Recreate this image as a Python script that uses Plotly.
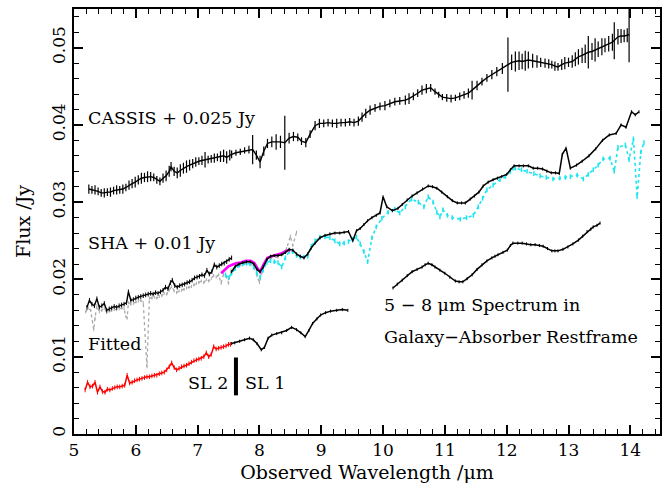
import plotly.graph_objects as go

# ---------------- CASSIS spectrum (+0.025 Jy offset) ----------------
cassis_wl = [5.24, 5.29, 5.34, 5.39, 5.44, 5.49, 5.54, 5.59, 5.64, 5.69, 5.74, 5.79,
             5.84, 5.89, 5.94, 5.99, 6.04, 6.09, 6.14, 6.19, 6.24, 6.29, 6.34, 6.39,
             6.44, 6.49, 6.54, 6.57, 6.62, 6.67, 6.72, 6.77, 6.82, 6.87, 6.92, 6.97,
             7.02, 7.07, 7.12, 7.17, 7.22, 7.27, 7.32, 7.37, 7.42, 7.47, 7.52,
             7.55, 7.62, 7.69, 7.76, 7.83, 7.89, 7.95, 8.01, 8.07, 8.13, 8.20, 8.27,
             8.34, 8.41, 8.48, 8.55, 8.62, 8.68, 8.75, 8.82, 8.90, 8.97, 9.04, 9.11,
             9.18, 9.25, 9.32, 9.39, 9.46, 9.53, 9.60, 9.66, 9.72, 9.79, 9.87, 9.95,
             10.03, 10.11, 10.19, 10.27, 10.36, 10.42, 10.49, 10.56, 10.63, 10.70,
             10.77, 10.84, 10.90, 10.96, 11.03, 11.10, 11.17, 11.24, 11.31, 11.38,
             11.44, 11.52, 11.60, 11.68, 11.76, 11.84, 11.93, 12.02, 12.08, 12.14,
             12.20, 12.25, 12.30, 12.35, 12.42, 12.49, 12.55, 12.62, 12.68, 12.73,
             12.78, 12.83, 12.89, 12.94, 13.00, 13.06, 13.11, 13.16, 13.22, 13.27,
             13.32, 13.38, 13.43, 13.48, 13.54, 13.59, 13.65, 13.71, 13.74, 13.80,
             13.85, 13.90, 13.95, 13.98]
cassis_flux = [0.0317, 0.0316, 0.0316, 0.0314, 0.0312, 0.0312, 0.0313, 0.0313, 0.0315, 0.0316,
               0.0316, 0.0317, 0.0319, 0.0322, 0.0324, 0.0326, 0.0329, 0.0331, 0.0332, 0.0333,
               0.0333, 0.0332, 0.0329, 0.0327, 0.0331, 0.0334, 0.0340, 0.0346, 0.0340, 0.0338,
               0.0341, 0.0344, 0.0346, 0.0348, 0.0350, 0.0352, 0.0353, 0.0354, 0.0355, 0.0355,
               0.0356, 0.0357, 0.0358, 0.0359, 0.0360, 0.0358, 0.0361,
               0.0362, 0.0364, 0.0365, 0.0367, 0.0368, 0.0368, 0.0361, 0.0352, 0.0366, 0.0376,
               0.0378, 0.0378, 0.0378, 0.0377, 0.0383, 0.0385, 0.0384, 0.0379, 0.0377, 0.0388,
               0.0399, 0.0402, 0.0402, 0.0403, 0.0402, 0.0402, 0.0403, 0.0403, 0.0404, 0.0403,
               0.0405, 0.0410, 0.0415, 0.0419, 0.0422, 0.0424, 0.0425, 0.0428, 0.0430, 0.0431,
               0.0432, 0.0434, 0.0437, 0.0441, 0.0445, 0.0447, 0.0448, 0.0443, 0.0439, 0.0436,
               0.0435, 0.0434, 0.0435, 0.0437, 0.0439, 0.0441, 0.0445, 0.0451, 0.0456, 0.0461,
               0.0465, 0.0469, 0.0473, 0.0478, 0.0481, 0.0482, 0.0483, 0.0482, 0.0483, 0.0484,
               0.0483, 0.0482, 0.0481, 0.0480, 0.0479, 0.0478, 0.0476, 0.0475, 0.0478, 0.0480,
               0.0481, 0.0482, 0.0485, 0.0488, 0.0490, 0.0492, 0.0494, 0.0495, 0.0497, 0.0498,
               0.0501, 0.0503, 0.0505, 0.0507, 0.0509, 0.0514, 0.0515, 0.0515, 0.0516, 0.0517]
cassis_err = [0.0006, 0.0005, 0.0006, 0.0005, 0.0005, 0.0006, 0.0005, 0.0006, 0.0005, 0.0006,
              0.0005, 0.0006, 0.0005, 0.0006, 0.0006, 0.0007, 0.0006, 0.0007, 0.0006, 0.0007,
              0.0006, 0.0005, 0.0005, 0.0005, 0.0006, 0.0007, 0.0007, 0.0006, 0.0006, 0.0007,
              0.0008, 0.0007, 0.0008, 0.0007, 0.0006, 0.0006, 0.0005, 0.0006, 0.0010, 0.0005,
              0.0005, 0.0006, 0.0005, 0.0007, 0.0008, 0.0008, 0.0007,
              0.0005, 0.0004, 0.0004, 0.0004, 0.0005, 0.0019, 0.0006, 0.0008, 0.0006, 0.0006,
              0.0007, 0.0010, 0.0008, 0.0035, 0.0007, 0.0006, 0.0005, 0.0005, 0.0006, 0.0005,
              0.0006, 0.0006, 0.0005, 0.0005, 0.0005, 0.0006, 0.0005, 0.0005, 0.0005, 0.0005,
              0.0006, 0.0006, 0.0006, 0.0006, 0.0005, 0.0005, 0.0006, 0.0005, 0.0005, 0.0005,
              0.0006, 0.0007, 0.0005, 0.0005, 0.0006, 0.0006, 0.0005, 0.0004, 0.0004, 0.0004,
              0.0005, 0.0005, 0.0004, 0.0005, 0.0005, 0.0006, 0.0012, 0.0006, 0.0005, 0.0005,
              0.0006, 0.0006, 0.0007, 0.0035, 0.0010, 0.0013, 0.0012, 0.0010, 0.0013, 0.0011,
              0.0009, 0.0008, 0.0006, 0.0006, 0.0006, 0.0005, 0.0006, 0.0005, 0.0007, 0.0008,
              0.0006, 0.0008, 0.0009, 0.0010, 0.0010, 0.0012, 0.0021, 0.0011, 0.0015, 0.0010,
              0.0011, 0.0009, 0.0010, 0.0011, 0.0024, 0.0010, 0.0009, 0.0008, 0.0009, 0.0036]

# ---------------- SHA spectrum (+0.01 Jy offset) ----------------
sha_sl2_wl = [5.21, 5.25, 5.29, 5.33, 5.37, 5.41, 5.45, 5.49, 5.53, 5.57, 5.61, 5.65,
              5.69, 5.73, 5.77, 5.81, 5.85, 5.88, 5.92, 5.96, 6.00, 6.04, 6.08, 6.12,
              6.16, 6.20, 6.24, 6.28, 6.32, 6.36, 6.40, 6.44, 6.48, 6.52, 6.56, 6.59,
              6.63, 6.67, 6.71, 6.75, 6.79, 6.83, 6.87, 6.91, 6.95, 6.99, 7.03, 7.07,
              7.11, 7.15, 7.19, 7.23, 7.27, 7.31, 7.35, 7.39, 7.43, 7.47, 7.51, 7.55]
sha_sl2_flux = [0.0164, 0.0173, 0.0168, 0.0166, 0.0175, 0.0164, 0.0166, 0.0169, 0.0160, 0.0162,
                0.0163, 0.0165, 0.0164, 0.0166, 0.0167, 0.0168, 0.0170, 0.0184, 0.0173, 0.0174,
                0.0176, 0.0177, 0.0178, 0.0179, 0.0180, 0.0181, 0.0182, 0.0181, 0.0183, 0.0182,
                0.0184, 0.0186, 0.0190, 0.0188, 0.0196, 0.0199, 0.0192, 0.0190, 0.0192, 0.0193,
                0.0194, 0.0196, 0.0197, 0.0199, 0.0202, 0.0203, 0.0204, 0.0206, 0.0205, 0.0212,
                0.0207, 0.0210, 0.0219, 0.0216, 0.0218, 0.0220, 0.0221, 0.0223, 0.0226, 0.0228]

sha_sl1_wl = [7.55, 7.61, 7.67, 7.73, 7.79, 7.85, 7.91, 7.96, 8.01, 8.06, 8.12, 8.18,
              8.24, 8.30, 8.36, 8.42, 8.48, 8.54, 8.60, 8.66, 8.72, 8.78, 8.84, 8.90,
              8.98, 9.06, 9.14, 9.22, 9.30, 9.37, 9.44, 9.51, 9.57, 9.63, 9.69, 9.75,
              9.82, 9.89, 9.95, 10.00, 10.06, 10.15, 10.24, 10.31, 10.39, 10.47, 10.55,
              10.64, 10.73, 10.80, 10.87, 10.95, 11.04, 11.12, 11.20, 11.27, 11.33, 11.41,
              11.48, 11.55, 11.62, 11.70, 11.78, 11.85, 11.92, 12.00, 12.06, 12.12, 12.20,
              12.27, 12.35, 12.43, 12.50, 12.58, 12.65, 12.72, 12.79, 12.85, 12.90, 12.96,
              13.03, 13.13, 13.22, 13.33, 13.44, 13.55, 13.66, 13.77, 13.85, 13.93, 14.02,
              14.08, 14.14]
sha_sl1_flux = [0.0210, 0.0217, 0.0220, 0.0222, 0.0223, 0.0223, 0.0220, 0.0213, 0.0210, 0.0216,
                0.0226, 0.0230, 0.0231, 0.0231, 0.0232, 0.0235, 0.0239, 0.0238, 0.0233, 0.0230,
                0.0228, 0.0233, 0.0241, 0.0247, 0.0254, 0.0257, 0.0259, 0.0260, 0.0260, 0.0261,
                0.0262, 0.0250, 0.0263, 0.0266, 0.0271, 0.0276, 0.0280, 0.0283, 0.0286, 0.0307,
                0.0294, 0.0289, 0.0292, 0.0297, 0.0303, 0.0308, 0.0312, 0.0317, 0.0321, 0.0320,
                0.0318, 0.0313, 0.0307, 0.0302, 0.0299, 0.0299, 0.0299, 0.0304, 0.0308, 0.0313,
                0.0321, 0.0326, 0.0329, 0.0331, 0.0333, 0.0336, 0.0342, 0.0347, 0.0347, 0.0347,
                0.0347, 0.0344, 0.0344, 0.0343, 0.0340, 0.0338, 0.0338, 0.0337, 0.0362, 0.0370,
                0.0344, 0.0348, 0.0353, 0.0360, 0.0369, 0.0380, 0.0387, 0.0389, 0.0400, 0.0397,
                0.0417, 0.0413, 0.0417]

# alternative SL1 reduction (dotted cyan)
alt_sl1_wl = [7.45, 7.50, 7.55, 7.61, 7.67, 7.73, 7.79, 7.85, 7.91, 7.96, 8.01, 8.06,
              8.12, 8.18, 8.24, 8.30, 8.36, 8.42, 8.48, 8.54, 8.60, 8.66, 8.72, 8.78,
              8.84, 8.90, 8.98, 9.06, 9.14, 9.22, 9.30, 9.37, 9.44, 9.51, 9.57, 9.63,
              9.69, 9.75, 9.82, 9.89, 9.98, 10.08, 10.19, 10.27, 10.36, 10.46, 10.57,
              10.66, 10.73, 10.81, 10.87, 10.92, 10.97, 11.04, 11.12, 11.25, 11.35, 11.46,
              11.54, 11.61, 11.68, 11.78, 11.89, 11.98, 12.06, 12.14, 12.24, 12.33, 12.44,
              12.54, 12.64, 12.75, 12.86, 12.95, 13.03, 13.14, 13.24, 13.32, 13.40, 13.48,
              13.56, 13.67, 13.74, 13.80, 13.92, 13.98, 14.05, 14.11, 14.17, 14.22]
alt_sl1_flux = [0.0206, 0.0202, 0.0208, 0.0214, 0.0218, 0.0220, 0.0221, 0.0220, 0.0216, 0.0208,
                0.0203, 0.0212, 0.0222, 0.0224, 0.0223, 0.0222, 0.0216, 0.0228, 0.0236, 0.0236,
                0.0231, 0.0229, 0.0229, 0.0230, 0.0243, 0.0250, 0.0255, 0.0255, 0.0254, 0.0250,
                0.0246, 0.0247, 0.0249, 0.0252, 0.0255, 0.0246, 0.0236, 0.0223, 0.0254, 0.0268,
                0.0279, 0.0287, 0.0291, 0.0286, 0.0294, 0.0304, 0.0300, 0.0294, 0.0307, 0.0300,
                0.0287, 0.0281, 0.0290, 0.0283, 0.0280, 0.0278, 0.0280, 0.0283, 0.0294, 0.0305,
                0.0316, 0.0322, 0.0329, 0.0333, 0.0340, 0.0344, 0.0342, 0.0340, 0.0337, 0.0334,
                0.0332, 0.0330, 0.0331, 0.0332, 0.0333, 0.0335, 0.0330, 0.0336, 0.0342, 0.0348,
                0.0356, 0.0357, 0.0340, 0.0371, 0.0374, 0.0355, 0.0382, 0.0307, 0.0365, 0.0377]

# overlap segment (magenta)
overlap_wl = [7.38, 7.44, 7.50, 7.56, 7.62, 7.70, 7.78, 7.86, 7.92, 7.97, 8.01, 8.07,
              8.13, 8.20, 8.28, 8.36, 8.44, 8.50]
overlap_flux = [0.0208, 0.0213, 0.0217, 0.0219, 0.0221, 0.0222, 0.0224, 0.0224, 0.0221, 0.0214,
                0.0210, 0.0220, 0.0228, 0.0230, 0.0232, 0.0234, 0.0237, 0.0238]

# uncorrected SHA (dotted grey)
raw_wl = [5.19, 5.23, 5.27, 5.30, 5.32, 5.34, 5.37, 5.41, 5.45, 5.49, 5.53, 5.57, 5.61,
          5.65, 5.69, 5.73, 5.77, 5.81, 5.84, 5.86, 5.88, 5.92, 5.96, 6.00, 6.04, 6.08,
          6.12, 6.18, 6.22, 6.26, 6.30, 6.34, 6.38, 6.42, 6.46, 6.50, 6.54, 6.58, 6.62,
          6.66, 6.70, 6.74, 6.78, 6.82, 6.86, 6.90, 6.94, 6.98, 7.02, 7.06, 7.10, 7.14,
          7.18, 7.22, 7.26, 7.30, 7.34, 7.38, 7.42, 7.46, 7.50, 7.54, 7.60, 7.70, 7.80,
          7.90, 7.96, 8.00, 8.05, 8.12, 8.20, 8.30, 8.38, 8.44, 8.50, 8.54, 8.60]
raw_flux = [0.0158, 0.0163, 0.0160, 0.0145, 0.0135, 0.0150, 0.0166, 0.0158, 0.0160, 0.0163,
            0.0157, 0.0159, 0.0160, 0.0161, 0.0161, 0.0162, 0.0163, 0.0162, 0.0152, 0.0150,
            0.0170, 0.0168, 0.0169, 0.0171, 0.0172, 0.0173, 0.0170, 0.0087, 0.0176, 0.0176,
            0.0177, 0.0176, 0.0178, 0.0179, 0.0182, 0.0181, 0.0186, 0.0191, 0.0185, 0.0183,
            0.0185, 0.0186, 0.0187, 0.0189, 0.0190, 0.0191, 0.0193, 0.0195, 0.0196, 0.0198,
            0.0196, 0.0200, 0.0198, 0.0201, 0.0205, 0.0203, 0.0206, 0.0195, 0.0207, 0.0204,
            0.0195, 0.0212, 0.0216, 0.0219, 0.0221, 0.0218, 0.0205, 0.0196, 0.0212, 0.0224,
            0.0228, 0.0229, 0.0233, 0.0240, 0.0256, 0.0244, 0.0261]

# ---------------- fitted spectrum ----------------
fit_sl2_wl = [5.18, 5.22, 5.26, 5.30, 5.34, 5.38, 5.42, 5.46, 5.50, 5.54, 5.58, 5.62,
              5.66, 5.70, 5.74, 5.78, 5.82, 5.86, 5.90, 5.94, 5.98, 6.02, 6.06, 6.10,
              6.14, 6.18, 6.22, 6.26, 6.30, 6.34, 6.38, 6.42, 6.46, 6.50, 6.54, 6.58,
              6.62, 6.66, 6.70, 6.74, 6.78, 6.82, 6.86, 6.90, 6.94, 6.98, 7.02, 7.06,
              7.10, 7.14, 7.18, 7.22, 7.26, 7.30, 7.34, 7.38, 7.42, 7.46, 7.50, 7.53]
fit_sl2_flux = [0.0057, 0.0067, 0.0061, 0.0062, 0.0067, 0.0054, 0.0061, 0.0055, 0.0054, 0.0058,
                0.0057, 0.0059, 0.0060, 0.0061, 0.0061, 0.0062, 0.0063, 0.0076, 0.0066, 0.0067,
                0.0069, 0.0070, 0.0071, 0.0072, 0.0073, 0.0074, 0.0074, 0.0075, 0.0076, 0.0076,
                0.0078, 0.0079, 0.0080, 0.0083, 0.0087, 0.0092, 0.0086, 0.0083, 0.0085, 0.0087,
                0.0088, 0.0089, 0.0091, 0.0093, 0.0095, 0.0096, 0.0097, 0.0098, 0.0100, 0.0105,
                0.0100, 0.0103, 0.0113, 0.0110, 0.0111, 0.0112, 0.0113, 0.0114, 0.0116, 0.0116]

fit_sl1_wl = [7.55, 7.60, 7.68, 7.76, 7.84, 7.90, 7.96, 8.03, 8.08, 8.14, 8.20, 8.28,
              8.36, 8.44, 8.52, 8.60, 8.67, 8.74, 8.80, 8.86, 8.93, 8.99, 9.07, 9.15,
              9.25, 9.34, 9.43]
fit_sl1_flux = [0.0117, 0.0118, 0.0120, 0.0122, 0.0124, 0.0122, 0.0117, 0.0109, 0.0112, 0.0124,
                0.0128, 0.0130, 0.0131, 0.0134, 0.0138, 0.0135, 0.0131, 0.0126, 0.0134, 0.0143,
                0.0149, 0.0154, 0.0157, 0.0159, 0.0160, 0.0161, 0.0160]

# ---------------- 5-8 um spectrum shifted to the absorber restframe ----------------
rest_wl = [10.16, 10.23, 10.31, 10.39, 10.47, 10.55, 10.63, 10.68, 10.73, 10.79, 10.84,
           10.92, 11.00, 11.08, 11.17, 11.23, 11.29, 11.36, 11.44, 11.52, 11.60, 11.68,
           11.76, 11.81, 11.86, 11.94, 12.01, 12.06, 12.10, 12.18, 12.25, 12.32, 12.39,
           12.46, 12.53, 12.59, 12.66, 12.73, 12.78, 12.83, 12.91, 12.99, 13.07, 13.16,
           13.23, 13.30, 13.36, 13.40, 13.46, 13.51]
rest_flux = [0.0189, 0.0194, 0.0199, 0.0205, 0.0210, 0.0213, 0.0216, 0.0219, 0.0221, 0.0219,
             0.0216, 0.0212, 0.0208, 0.0203, 0.0198, 0.0197, 0.0197, 0.0201, 0.0206, 0.0213,
             0.0219, 0.0224, 0.0228, 0.0230, 0.0232, 0.0235, 0.0238, 0.0244, 0.0247, 0.0247,
             0.0247, 0.0246, 0.0245, 0.0245, 0.0244, 0.0243, 0.0240, 0.0237, 0.0237, 0.0237,
             0.0239, 0.0242, 0.0246, 0.0251, 0.0256, 0.0262, 0.0265, 0.0268, 0.0270, 0.0273]

# SL2 / SL1 module boundary marker
module_edge_wl = [7.62, 7.62]
module_edge_flux = [0.0050, 0.0099]

FONT = "DejaVu Serif"

fig = go.Figure()


def spectrum(x, y, color, width=1.3, dash="solid", err=None, errw=1.0):
    tr = go.Scatter(x=x, y=y, mode="lines",
                    line=dict(color=color, width=width, dash=dash),
                    showlegend=False, hoverinfo="skip")
    if err is not None:
        tr.error_y = dict(type="data", array=err, visible=True, width=0,
                          thickness=errw, color=color)
    fig.add_trace(tr)


spectrum(raw_wl, raw_flux, "#a8a8a8", width=1.3, dash="dot",
         err=[0.0002] * len(raw_wl))
spectrum(alt_sl1_wl, alt_sl1_flux, "#19e6f0", width=1.6, dash="dot",
         err=[0.0003] * len(alt_sl1_wl), errw=1.5)
spectrum(overlap_wl, overlap_flux, "#ff00ff", width=2.6)
spectrum(cassis_wl, cassis_flux, "black", width=1.4, err=cassis_err, errw=1.2)
spectrum(sha_sl2_wl, sha_sl2_flux, "black", width=1.4, err=[0.0003] * len(sha_sl2_wl))
spectrum(sha_sl1_wl, sha_sl1_flux, "black", width=1.5, err=[0.0002] * len(sha_sl1_wl))
spectrum(fit_sl2_wl, fit_sl2_flux, "#ff0000", width=1.5, err=[0.0003] * len(fit_sl2_wl))
spectrum(fit_sl1_wl, fit_sl1_flux, "black", width=1.5, err=[0.0002] * len(fit_sl1_wl))
spectrum(rest_wl, rest_flux, "black", width=1.5, err=[0.0002] * len(rest_wl))
spectrum(module_edge_wl, module_edge_flux, "black", width=4)

labels = [
    (5.2, 0.0409, "CASSIS + 0.025 Jy", "left"),
    (5.2, 0.0247, "SHA + 0.01 Jy", "left"),
    (5.2, 0.0116, "Fitted", "left"),
    (7.52, 0.0066, "SL 2", "right"),
    (7.74, 0.0066, "SL 1", "left"),
    (9.98, 0.0167, "5 \u2212 8 \u03bcm Spectrum in", "left"),
    (9.98, 0.0126, "Galaxy\u2212Absorber Restframe", "left"),
]
for x, y, t, anc in labels:
    fig.add_annotation(x=x, y=y, text=t, showarrow=False, xanchor=anc,
                       yanchor="middle", font=dict(family=FONT, size=17.5, color="black"))

axis_common = dict(
    showline=True, linecolor="black", linewidth=2, mirror="allticks",
    ticks="inside", ticklen=9, tickwidth=1.5, tickcolor="black",
    showgrid=False, zeroline=False, automargin=False,
    tickfont=dict(family=FONT, size=17, color="black"),
)

fig.update_xaxes(range=[5, 14.48], dtick=1, tick0=5,
                 minor=dict(dtick=0.2, ticks="inside", ticklen=5, tickwidth=1.2,
                            tickcolor="black", showgrid=False),
                 title=dict(text="Observed Wavelength /\u03bcm",
                            font=dict(family=FONT, size=19, color="black"), standoff=6),
                 **axis_common)
fig.update_yaxes(range=[0, 0.055], dtick=0.01, tick0=0, tickangle=-90,
                 tickformat="~g",
                 minor=dict(dtick=0.002, ticks="inside", ticklen=5, tickwidth=1.2,
                            tickcolor="black", showgrid=False),
                 title=dict(text="Flux /Jy",
                            font=dict(family=FONT, size=19, color="black"), standoff=14),
                 **axis_common)

fig.update_layout(width=670, height=487,
                  margin=dict(l=74, r=10, t=9, b=53),
                  paper_bgcolor="white", plot_bgcolor="white")

fig.write_html("out.html")
